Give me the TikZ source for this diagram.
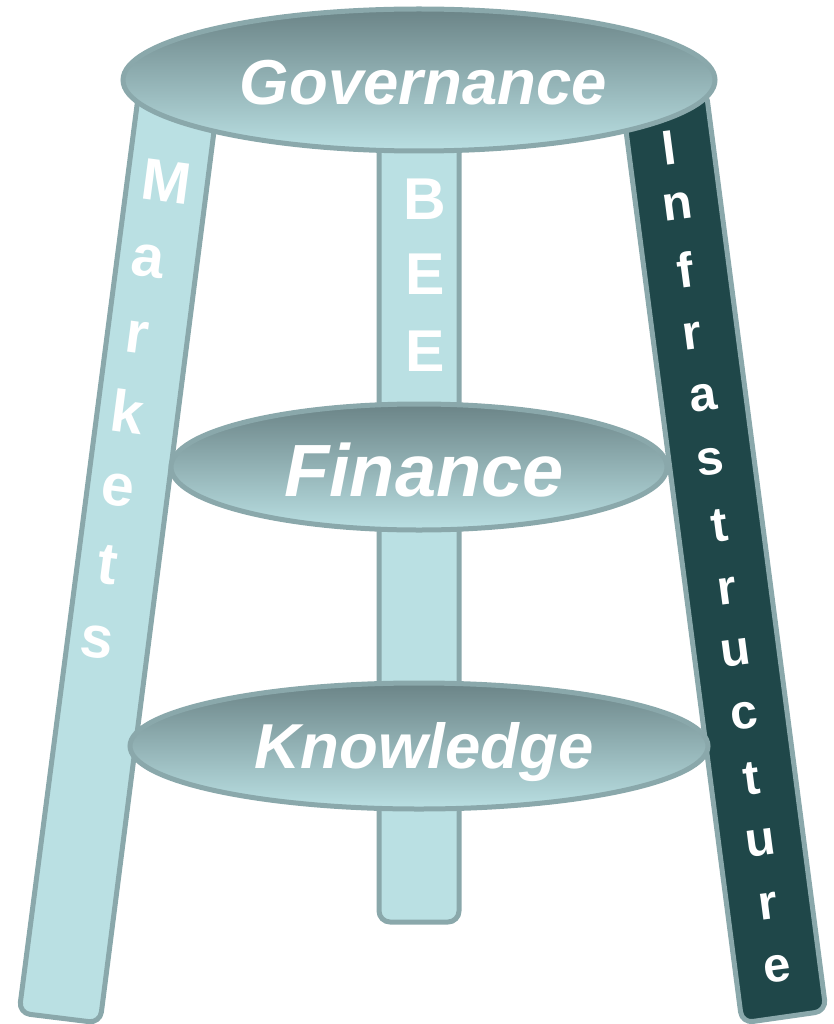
\documentclass[tikz,border=0pt]{standalone}
\usepackage{fontspec}
\setmainfont{Liberation Sans}
\usetikzlibrary{shapes.geometric}
\definecolor{edgec}{HTML}{8AA8AB}
\definecolor{legc}{HTML}{BAE0E3}
\definecolor{darkleg}{HTML}{1F4749}
\definecolor{topc}{HTML}{6B8487}
\tikzset{
  x=1pt,y=-1pt,
  leg/.style={draw=edgec,line width=5pt,fill=legc,rounded corners=11pt,line join=round},
  seat/.style={ellipse,draw=edgec,line width=5pt,top color=topc,bottom color=legc,inner sep=0pt},
  seatlabel/.style={inner sep=0pt,text=white,font=\fontsize{#1}{#1}\selectfont\bfseries\itshape},
  lettera/.style={inner sep=0pt,text=white,font=\fontsize{59}{59}\selectfont\bfseries},
  letterl/.style={lettera,rotate=-7.5},
  letterr/.style={inner sep=0pt,text=white,rotate=7.5,font=\fontsize{49}{49}\selectfont\bfseries},
}
\begin{document}
\begin{tikzpicture}
\useasboundingbox (0,0) rectangle (834,1024);
% legs
\begin{scope}
\clip (0,0) rectangle (834,1024);
\draw[leg] (139,90) -- (218,100) -- (100,1023) -- (19,1013) -- cycle;
\draw[leg] (379,120) -- (459,120) -- (459,922) -- (379,922) -- cycle;
\draw[leg,fill=darkleg] (622,100) -- (706,90) -- (826,1011) -- (742,1023) -- cycle;
\end{scope}
% seats
\node[seat,minimum width=592pt,minimum height=142pt] (gov) at (419,80) {};
\node[seat,minimum width=496pt,minimum height=126pt] (fin) at (419,467) {};
\node[seat,minimum width=578pt,minimum height=126pt] (kno) at (419,746) {};
\node[seatlabel=63.5] (govt) at (423.5,82.5) {Governance};
\node[seatlabel=74] (fint) at (424,470) {Finance};
\node[seatlabel=63.5] (knot) at (424,752) {Knowledge};
% Markets
\node[letterl] (m1) at (167,182) {M};
\node[letterl] (m2) at (148,261) {a};
\node[letterl] (m3) at (137,337) {r};
\node[letterl] (m4) at (128,411) {k};
\node[letterl] (m5) at (118,490) {e};
\node[letterl] (m6) at (108,565) {t};
\node[letterl] (m7) at (97,642) {s};
% BEE
\node[lettera] (b1) at (425,199) {B};
\node[lettera] (b2) at (425,274) {E};
\node[lettera] (b3) at (425,351) {E};
% Infrastructure
\node[letterr] (i1) at (669,148) {I};
\node[letterr] (i2) at (678,206) {n};
\node[letterr] (i3) at (685,270) {f};
\node[letterr] (i4) at (692,336) {r};
\node[letterr] (i5) at (703,398) {a};
\node[letterr] (i6) at (710,462) {s};
\node[letterr] (i7) at (720,526) {t};
\node[letterr] (i8) at (727,591) {r};
\node[letterr] (i9) at (736,653) {u};
\node[letterr] (i10) at (744,716) {c};
\node[letterr] (i11) at (752,779) {t};
\node[letterr] (i12) at (761,843) {u};
\node[letterr] (i13) at (768,906) {r};
\node[letterr] (i14) at (777,969) {e};
\end{tikzpicture}
\end{document}
